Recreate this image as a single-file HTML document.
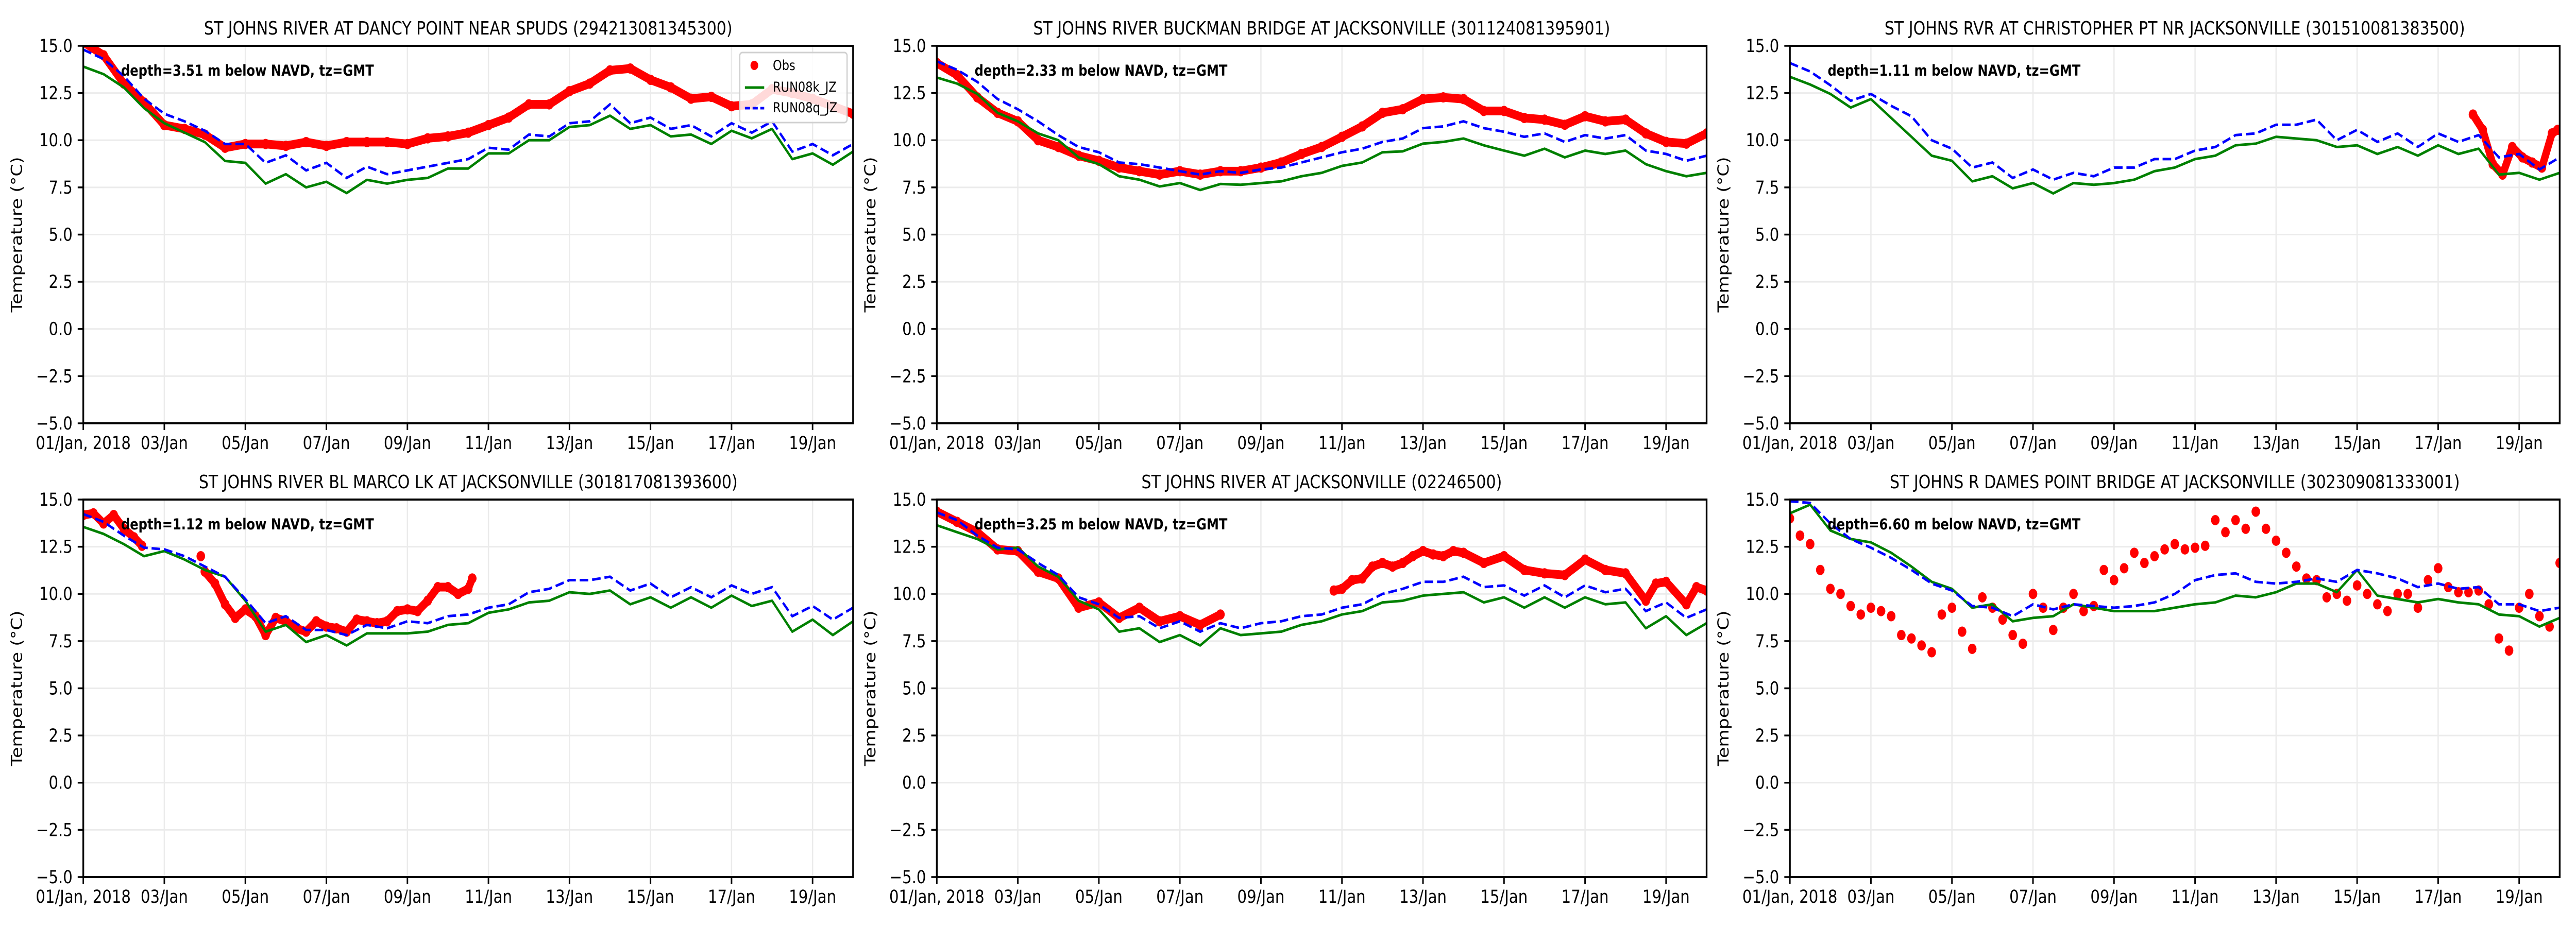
<!DOCTYPE html>
<html><head><meta charset="utf-8">
<meta name="viewport" content="width=6000">
<style>
html,body{margin:0;padding:0;background:#fff;width:100vw;height:100vh;overflow:hidden;}
svg{display:block;font-family:"DejaVu Sans","Liberation Sans",sans-serif;width:100vw;height:100vh;}
</style></head>
<body>
<svg id="fig" xmlns="http://www.w3.org/2000/svg" viewBox="0 0 6000 1800" preserveAspectRatio="none"></svg>
<script>
// ---- data ----
const yTicks = [-5.0,-2.5,0.0,2.5,5.0,7.5,10.0,12.5,15.0];
const xTickDays = [0,2,4,6,8,10,12,14,16,18];
const xTickLabels = ["01/Jan, 2018","03/Jan","05/Jan","07/Jan","09/Jan","11/Jan","13/Jan","15/Jan","17/Jan","19/Jan"];
const titles = [
 "ST JOHNS RIVER AT DANCY POINT NEAR SPUDS (294213081345300)",
 "ST JOHNS RIVER BUCKMAN BRIDGE AT JACKSONVILLE (301124081395901)",
 "ST JOHNS RVR AT CHRISTOPHER PT NR JACKSONVILLE (301510081383500)",
 "ST JOHNS RIVER BL MARCO LK AT JACKSONVILLE (301817081393600)",
 "ST JOHNS RIVER AT JACKSONVILLE (02246500)",
 "ST JOHNS R DAMES POINT BRIDGE AT JACKSONVILLE (302309081333001)"];
const depths = ["3.51","2.33","1.11","1.12","3.25","6.60"];
const modelStep = 0.5;
const k1=[13.9,13.5,12.8,11.7,10.9,10.4,9.9,8.9,8.8,7.7,8.2,7.5,7.8,7.2,7.9,7.7,7.9,8.0,8.5,8.5,9.3,9.3,10.0,10.0,10.7,10.8,11.3,10.6,10.8,10.2,10.3,9.8,10.5,10.1,10.6,9.0,9.3,8.7,9.4];
const q1=[14.8,14.3,13.4,12.2,11.4,11.0,10.5,9.8,9.8,8.8,9.2,8.4,8.8,8.0,8.6,8.2,8.4,8.6,8.8,9.0,9.6,9.5,10.3,10.2,10.9,11.0,11.9,10.9,11.2,10.6,10.8,10.2,10.9,10.4,11.0,9.4,9.8,9.2,9.8];
const k2=[13.32,13.0,12.45,11.45,11.0,10.36,10.0,9.09,8.73,8.09,7.91,7.55,7.73,7.36,7.68,7.64,7.73,7.82,8.09,8.27,8.64,8.82,9.36,9.41,9.82,9.91,10.09,9.73,9.45,9.18,9.55,9.09,9.45,9.27,9.45,8.73,8.36,8.09,8.27];
const q2=[14.18,13.73,13.09,12.18,11.64,11.0,10.27,9.64,9.36,8.82,8.73,8.55,8.36,8.18,8.36,8.27,8.45,8.55,8.82,9.09,9.36,9.55,9.91,10.09,10.64,10.73,11.0,10.64,10.45,10.18,10.36,9.91,10.27,10.09,10.27,9.45,9.27,8.91,9.18];
const k3=[13.36,12.95,12.45,11.73,12.18,11.18,10.18,9.18,8.91,7.82,8.09,7.45,7.73,7.18,7.73,7.64,7.73,7.91,8.36,8.55,9.0,9.18,9.73,9.82,10.18,10.09,10.0,9.64,9.73,9.27,9.64,9.18,9.73,9.27,9.55,8.18,8.27,7.91,8.27];
const q3=[14.09,13.64,12.91,12.09,12.45,11.82,11.27,10.0,9.55,8.55,8.82,8.0,8.45,7.91,8.27,8.09,8.55,8.55,9.0,9.0,9.45,9.64,10.27,10.36,10.82,10.82,11.09,10.0,10.55,9.91,10.36,9.64,10.36,9.91,10.27,9.09,9.27,8.45,9.09];
const k4=[13.55,13.18,12.64,12.0,12.27,11.82,11.27,10.91,9.64,8.0,8.36,7.45,7.82,7.27,7.91,7.91,7.91,8.0,8.36,8.45,9.0,9.18,9.55,9.64,10.09,10.0,10.18,9.45,9.82,9.27,9.82,9.27,9.91,9.36,9.64,8.0,8.64,7.82,8.55];
const q4=[14.23,13.82,13.09,12.45,12.36,12.0,11.45,10.91,9.73,8.45,8.82,8.09,8.09,7.82,8.36,8.18,8.55,8.45,8.82,8.91,9.27,9.45,10.09,10.27,10.73,10.73,10.91,10.18,10.55,9.82,10.36,9.82,10.45,10.0,10.36,8.82,9.36,8.64,9.27];
const k5=[13.64,13.27,12.91,12.36,12.45,11.45,10.91,9.64,9.18,8.0,8.18,7.45,7.82,7.27,8.18,7.82,7.91,8.0,8.36,8.55,8.91,9.09,9.55,9.64,9.91,10.0,10.09,9.55,9.82,9.27,9.82,9.27,9.82,9.45,9.55,8.18,8.82,7.82,8.45];
const q5=[14.32,13.91,13.09,12.45,12.36,11.64,11.0,9.82,9.45,8.73,8.82,8.18,8.55,8.0,8.45,8.18,8.45,8.55,8.82,8.91,9.27,9.45,10.0,10.27,10.64,10.64,10.91,10.36,10.45,9.91,10.45,9.82,10.45,10.09,10.27,9.09,9.55,8.73,9.18];
const k6=[14.27,14.73,13.36,12.91,12.73,12.18,11.45,10.64,10.27,9.27,9.45,8.55,8.73,8.82,9.45,9.27,9.09,9.09,9.09,9.27,9.45,9.55,9.91,9.82,10.09,10.55,10.55,10.09,11.27,9.91,9.73,9.55,9.73,9.55,9.45,8.91,8.82,8.27,8.73];
const q6=[14.91,14.82,13.73,12.91,12.45,11.91,11.27,10.55,10.18,9.36,9.27,8.82,9.45,9.18,9.45,9.36,9.27,9.36,9.55,10.0,10.73,11.0,11.09,10.64,10.55,10.64,10.82,10.64,11.27,11.09,10.82,10.36,10.55,10.27,10.36,9.45,9.45,9.09,9.27];
const obsT1=[0,0.5,1,1.5,2,2.5,3,3.5,4,4.5,5,5.5,6,6.5,7,7.5,8,8.5,9,9.5,10,10.5,11,11.5,12,12.5,13,13.5,14,14.5,15,15.5,16,16.5,17,17.5,18,18.5,19];
const obsV1=[15.2,14.5,13.0,12.0,10.8,10.6,10.3,9.6,9.8,9.8,9.7,9.9,9.7,9.9,9.9,9.9,9.8,10.1,10.2,10.4,10.8,11.2,11.9,11.9,12.6,13.0,13.7,13.8,13.2,12.8,12.2,12.3,11.8,11.9,12.7,12.5,12.2,11.8,11.4];
const obsT2=[0,0.5,1,1.5,2,2.5,3,3.5,4,4.5,5,5.5,6,6.5,7,7.5,8,8.5,9,9.5,10,10.5,11,11.5,12,12.5,13,13.5,14,14.5,15,15.5,16,16.5,17,17.5,18,18.5,19];
const obsV2=[14.09,13.45,12.27,11.45,11.0,10.0,9.64,9.18,8.91,8.55,8.36,8.18,8.36,8.18,8.36,8.36,8.55,8.82,9.27,9.64,10.18,10.73,11.45,11.64,12.18,12.27,12.18,11.55,11.55,11.18,11.09,10.82,11.27,11.0,11.09,10.36,9.91,9.82,10.36];
const obsT3=[16.86,17.1,17.35,17.59,17.83,18.08,18.32,18.56,18.81,18.95];
const obsV3=[11.36,10.55,8.73,8.18,9.64,9.09,8.82,8.55,10.36,10.55];
const obsT4=[0,0.25,0.5,0.75,1.0,1.25,1.45,null,2.9,null,3.0,3.25,3.5,3.75,4.0,4.25,4.5,4.75,5.0,5.25,5.5,5.75,6.0,6.25,6.5,6.75,7.0,7.25,7.5,7.75,8.0,8.25,8.5,8.75,9.0,9.25,9.5,9.6];
const obsV4=[14.18,14.27,13.73,14.18,13.45,13.0,12.55,null,12.0,null,11.18,10.55,9.45,8.73,9.18,8.82,7.82,8.73,8.55,8.18,8.0,8.55,8.27,8.18,8.0,8.64,8.55,8.45,8.55,9.09,9.18,9.09,9.64,10.36,10.36,10.0,10.27,10.82];
const obsT5=[0,0.5,1,1.5,2,2.5,3,3.5,4,4.5,5,5.5,6,6.5,7,null,9.8,10,10.25,10.5,10.75,11,11.25,11.5,11.75,12,12.25,12.5,12.75,13,13.5,14,14.5,15,15.5,16,16.5,17,17.5,17.75,18,18.5,18.75,19];
const obsV5=[14.36,13.82,13.27,12.36,12.27,11.18,10.82,9.27,9.55,8.73,9.27,8.55,8.82,8.36,8.91,null,10.18,10.27,10.73,10.82,11.45,11.64,11.45,11.64,12.0,12.27,12.09,12.0,12.27,12.18,11.64,12.0,11.27,11.09,11.0,11.82,11.27,11.09,9.64,10.55,10.64,9.45,10.36,10.18];
const obsStep6 = 0.25;
const obsV6=[14.0,13.09,12.64,11.27,10.27,10.0,9.36,8.91,9.27,9.09,8.82,7.82,7.64,7.27,6.91,8.91,9.27,8.0,7.09,9.82,9.27,8.64,7.82,7.36,10.0,9.27,8.09,9.27,10.0,9.09,9.36,11.27,10.73,11.36,12.18,11.64,12.0,12.36,12.64,12.36,12.45,12.55,13.91,13.27,13.91,13.45,14.36,13.45,12.82,12.18,11.45,10.82,10.73,9.82,10.0,9.64,10.45,10.0,9.45,9.09,10.0,10.0,9.27,10.73,11.36,10.36,10.09,10.09,10.18,9.45,7.64,7.0,9.27,10.0,8.82,8.27,11.64];
const obsT6 = obsV6.map((v,i)=>i*obsStep6);

const models=[[k1,q1],[k2,q2],[k3,q3],[k4,q4],[k5,q5],[k6,q6]];
const obsSets=[[obsT1,obsV1],[obsT2,obsV2],[obsT3,obsV3],[obsT4,obsV4],[obsT5,obsV5],[obsT6,obsV6]];

const NS="http://www.w3.org/2000/svg";
const svg=document.getElementById('fig');
const LEFTS=[194,2182,4169], TOPS=[89,970], W=1793, H=733;
const XMIN=0, XMAX=19, YMIN=-5, YMAX=15;
function el(tag,attrs,parent){const e=document.createElementNS(NS,tag);for(const k in attrs)e.setAttribute(k,attrs[k]);(parent||svg).appendChild(e);return e;}
const defs=el('defs',{});

for(let p=0;p<6;p++){
  const L=LEFTS[p%3], T=TOPS[Math.floor(p/3)];
  const sx=t=>L+(t-XMIN)/(XMAX-XMIN)*W;
  const sy=v=>T+H-(v-YMIN)/(YMAX-YMIN)*H;
  const g=el('g',{});
  
  
  const cp=el('clipPath',{id:'clip'+p},defs);
  el('rect',{x:L,y:T,width:W,height:H},cp);
  const grid=el('g',{},g);
  
  
  yTicks.forEach(v=>el('line',{x1:L,x2:L+W,y1:sy(v),y2:sy(v),stroke:'#ebebeb','stroke-width':3},grid));
  xTickDays.forEach(d=>el('line',{x1:sx(d),x2:sx(d),y1:T,y2:T+H,stroke:'#ebebeb','stroke-width':3},grid));
  const ser=el('g',{'clip-path':'url(#clip'+p+')'},g);
  const [oT,oV]=obsSets[p];
  let segs=[],cur=[];
  oT.forEach((t,i)=>{ if(t===null||oV[i]===null){ if(cur.length)segs.push(cur);cur=[];} else cur.push([sx(t),sy(oV[i])]); });
  if(cur.length)segs.push(cur);
  if(p!==5){
    segs.forEach(s=>{ if(s.length>1){
      const pl=el('polyline',{points:s.map(q=>q.join(',')).join(' '),fill:'none',stroke:'#ff0000','stroke-width':17,'stroke-linejoin':'round','stroke-linecap':'round'},ser);
      
      
    }});
  }
  oT.forEach((t,i)=>{ if(t===null||oV[i]===null)return;
    const c=el('circle',{cx:sx(t),cy:sy(oV[i]),r:10,fill:'#ff0000'},ser);
    
    
  });
  const [K,Q]=models[p];
  const kp=K.map((v,i)=>sx(i*modelStep)+','+sy(v)).join(' ');
  const kl=el('polyline',{points:kp,fill:'none',stroke:'#008000','stroke-width':5,'stroke-linejoin':'round'},ser);
  
  
  const qp=Q.map((v,i)=>sx(i*modelStep)+','+sy(v)).join(' ');
  const ql=el('polyline',{points:qp,fill:'none',stroke:'#0000ff','stroke-width':5,'stroke-dasharray':'20,9'},ser);
  
  
  const fr=el('rect',{x:L,y:T,width:W,height:H,fill:'none',stroke:'#000','stroke-width':4},g);
  
  
  yTicks.forEach(v=>{
    el('line',{x1:L-13,x2:L,y1:sy(v),y2:sy(v),stroke:'#000','stroke-width':3.5},g);
    const tx=el('text',{x:L-25,y:sy(v)+12,'text-anchor':'end','font-size':35,fill:'#000'},g);
    tx.textContent=(v<0?'\u2212':'')+Math.abs(v).toFixed(1);
    
    
  });
  xTickDays.forEach((d,i)=>{
    el('line',{x1:sx(d),x2:sx(d),y1:T+H,y2:T+H+13,stroke:'#000','stroke-width':3.5},g);
    const tx=el('text',{x:sx(d),y:T+H+50,'text-anchor':'middle','font-size':35,fill:'#000'},g);
    tx.textContent=xTickLabels[i];
    
    
  });
  const yl=el('text',{x:0,y:0,transform:'translate('+(L-143)+','+(T+H/2)+') rotate(-90)','text-anchor':'middle','font-size':35,fill:'#000'},g);
  yl.textContent='Temperature (\u00B0C)';
  
  
  const tt=el('text',{x:L+W/2,y:T-22,'text-anchor':'middle','font-size':36,fill:'#000'},g);
  tt.textContent=titles[p];
  
  
  const an=el('text',{x:L+88,y:T+58,'font-size':29,'font-weight':'bold',fill:'#000'},g);
  an.textContent='depth='+depths[p]+' m below NAVD, tz=GMT';
  
  
  if(p===0){
    const lg=el('g',{},g);
    
    
    el('rect',{x:1723,y:102,width:250,height:136,rx:6,fill:'#fff','fill-opacity':0.85,stroke:'#d0d0d0','stroke-width':3},lg);
    el('circle',{cx:1757,cy:127,r:9,fill:'#ff0000'},lg);
    el('line',{x1:1735,x2:1780,y1:170,y2:170,stroke:'#008000','stroke-width':5},lg);
    el('line',{x1:1735,x2:1780,y1:210,y2:210,stroke:'#0000ff','stroke-width':5,'stroke-dasharray':'12,6'},lg);
    [['Obs',136],['RUN08k_JZ',178],['RUN08q_JZ',218]].forEach(([s,y])=>{
      const t=el('text',{x:1800,y:y,'font-size':27,fill:'#000'},lg);
      t.textContent=s;
      
      
    });
  }
}
</script>
</body></html>
